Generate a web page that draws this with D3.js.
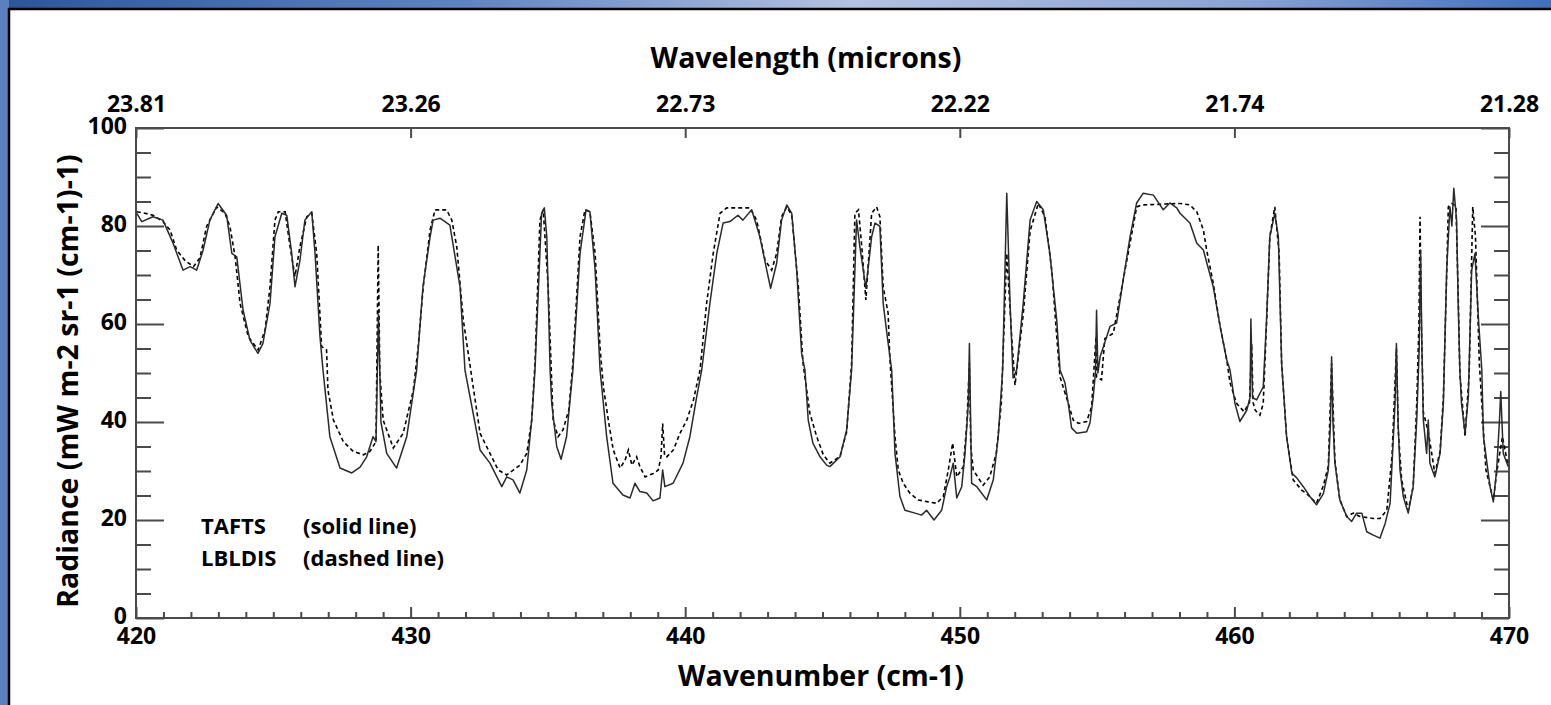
<!DOCTYPE html>
<html>
<head>
<meta charset="utf-8">
<script src="https://cdn.jsdelivr.net/npm/d3@7"></script>
<style>
  body { margin: 0; padding: 0; overflow: hidden; background: #2d5ea6; }
  text { font-family: "Open Sans", "Lato", sans-serif; font-weight: bold; fill: #000; }
</style>
</head>
<body>
<div class="chart"></div>
<script>
// TAFTS measured spectrum (solid line): [wavenumber cm-1, radiance]
var tafts = [
  [420.03,82.6],[420.21,80.9],[420.62,81.9],[420.98,81.2],[421.35,76.5],[421.71,71],[421.97,71.7],
  [422.21,71],[422.44,75],[422.69,81.2],[422.99,84.6],[423.30,82.2],[423.49,74.4],[423.67,73.7],
  [423.90,62.8],[424.15,56.7],[424.44,54],[424.62,56],[424.88,64.2],[425.06,77.8],[425.31,82.6],
  [425.49,82.2],[425.67,74.4],[425.79,67.6],[425.97,73],[426.15,81.2],[426.40,82.9],[426.52,74.4],
  [426.70,57.4],[426.81,50.6],[427.06,37],[427.43,30.6],[427.86,29.6],[428.16,30.8],[428.40,32.9],
  [428.63,37],[428.74,36],[428.83,62],[428.92,40],[429.13,33.6],[429.49,30.6],[429.86,37],
  [430.22,50.6],[430.45,67.6],[430.71,77.8],[430.82,81.2],[431.07,81.6],[431.43,80.2],[431.80,67.6],
  [431.98,50.6],[432.53,34.3],[432.89,31.6],[433.32,26.8],[433.50,28.8],[433.73,28.2],[433.98,25.5],
  [434.23,30.2],[434.41,40.4],[434.53,50.6],[434.77,82.6],[434.87,83.7],[434.96,77.8],[435.08,50.6],
  [435.14,43.8],[435.32,35],[435.48,32.4],[435.68,37],[435.91,50.6],[436.17,74.4],[436.39,83.3],
  [436.53,82.9],[436.72,71],[436.90,50.6],[437.14,37],[437.37,27.5],[437.73,25.1],[437.99,24.5],
  [438.17,27.5],[438.35,25.8],[438.60,25.5],[438.83,23.9],[439.08,24.5],[439.18,30.2],[439.26,26.8],
  [439.56,27.5],[439.92,31.6],[440.17,37],[440.42,45.2],[440.60,50.6],[440.90,64.2],[441.15,74.4],
  [441.38,80.6],[441.63,80.9],[441.92,82.2],[442.10,81.2],[442.42,83.3],[442.72,77.8],[442.97,71],
  [443.11,67.3],[443.33,72.4],[443.51,81.2],[443.70,84.3],[443.88,82.6],[444.06,71],[444.24,54],
  [444.36,50.6],[444.48,40.4],[444.65,35.7],[444.91,32.9],[445.15,31.2],[445.27,30.9],[445.64,32.9],
  [445.88,38.4],[446.06,50.6],[446.14,64.2],[446.24,81.2],[446.36,75.8],[446.58,67.3],[446.79,77.8],
  [446.91,80.6],[447.09,79.9],[447.21,64.2],[447.36,57.4],[447.52,50.6],[447.64,33.6],[447.82,24.8],
  [448.00,22],[448.37,21.4],[448.61,21],[448.79,22],[449.06,20],[449.34,22],[449.52,26.8],
  [449.64,28.8],[449.76,31.6],[449.89,24.5],[450.07,26.8],[450.19,33.6],[450.31,43.8],[450.35,56],
  [450.43,27.5],[450.62,26.8],[450.98,24.1],[451.22,28.2],[451.40,37],[451.56,50.6],[451.71,86.7],
  [451.83,64.2],[451.94,49],[452.07,50.6],[452.31,64.2],[452.56,81.2],[452.80,85],[453.04,83.3],
  [453.28,74.4],[453.53,60.8],[453.65,50.6],[453.83,48],[453.95,43.8],[454.07,38.8],[454.26,37.7],
  [454.62,38],[454.74,39.8],[454.86,45.2],[454.94,50],[454.98,62.8],[455.03,50],[455.11,53.3],
  [455.47,59.5],[455.71,60.2],[455.95,69],[456.20,77.8],[456.44,84.7],[456.68,86.7],[457.05,86.3],
  [457.41,83.3],[457.65,84.7],[457.90,83.7],[458.02,82.6],[458.38,80.6],[458.63,76.5],[458.87,75.1],
  [459.23,67.6],[459.48,59.5],[459.72,52.7],[459.84,50.6],[460.02,43.8],[460.20,40.1],[460.45,42.4],
  [460.57,45],[460.60,61],[460.66,45],[460.81,44.5],[461.05,47.2],[461.17,60.8],[461.29,77.8],
  [461.47,82.6],[461.60,77.8],[461.72,52],[461.90,37],[462.09,29.6],[462.27,28.6],[462.51,26.8],
  [462.75,24.8],[462.99,23.1],[463.24,25.4],[463.42,30.2],[463.50,40],[463.54,53.3],[463.59,40],
  [463.66,31.6],[463.84,24.1],[464.09,20.7],[464.27,19.7],[464.45,21.4],[464.64,21.4],[464.82,17.6],
  [465.06,16.9],[465.30,16.3],[465.49,19.3],[465.67,23.4],[465.85,43.8],[465.90,56],[465.96,40],
  [466.03,30.2],[466.15,24.8],[466.33,21.4],[466.51,26.8],[466.64,40.4],[466.73,55],[466.78,75],
  [466.83,55],[466.88,40.4],[467.00,33.6],[467.06,40.4],[467.12,31.6],[467.30,28.8],[467.49,33.6],
  [467.61,43.8],[467.73,71],[467.85,83.9],[467.92,80],[467.99,87.7],[468.09,81.2],[468.15,64.2],
  [468.21,50.6],[468.27,43.8],[468.40,37.7],[468.52,45.2],[468.64,71],[468.76,74.4],[468.89,60.8],
  [469.01,50.6],[469.07,37],[469.31,26.8],[469.43,23.7],[469.55,30.2],[469.65,40],[469.70,46.2],
  [469.79,33.6],[469.97,30.9]
];

// LBLDIS simulated spectrum (dashed line)
var lbldis = [
  [420.03,82.9],[420.33,82.6],[420.62,82.2],[420.98,80.9],[421.24,79.2],[421.48,75.1],[421.78,73],
  [422.09,71.7],[422.33,73.5],[422.57,79.9],[422.94,83.9],[423.24,82.6],[423.42,79.9],[423.61,73.7],
  [423.79,64.2],[424.09,57.4],[424.45,54.7],[424.70,58.8],[424.88,67.6],[425.06,81.2],[425.18,82.9],
  [425.43,82.9],[425.61,75.8],[425.79,69.7],[425.97,75.8],[426.22,81.9],[426.40,82.6],[426.58,74.4],
  [426.76,55.4],[426.94,54.7],[426.99,46.5],[427.19,40.4],[427.55,36],[427.91,34],[428.28,33.3],
  [428.52,34],[428.74,36],[428.82,76.1],[428.88,50],[429.00,40.4],[429.37,34.7],[429.73,37.7],
  [430.10,46.5],[430.27,55],[430.46,67.6],[430.71,79.2],[430.89,83.3],[431.31,83.3],[431.50,81.2],
  [431.68,75.8],[431.92,60.8],[432.53,37.7],[432.89,33.6],[433.19,30.2],[433.50,29.2],[433.74,30.2],
  [433.98,31.2],[434.23,33.6],[434.41,40.4],[434.53,52],[434.71,81.2],[434.83,83.3],[435.01,67.6],
  [435.19,40.4],[435.37,37],[435.55,38.4],[435.76,42.4],[435.91,52],[436.17,77.8],[436.35,83.3],
  [436.53,82.9],[436.72,74.4],[436.90,55],[437.02,47.2],[437.20,40.4],[437.38,34.3],[437.63,30.6],
  [437.81,32.2],[437.93,34.3],[438.06,31.2],[438.23,32.9],[438.35,30.9],[438.54,28.8],[438.84,29.5],
  [439.02,30.2],[439.12,33],[439.18,39.7],[439.25,33],[439.33,32.9],[439.57,34.3],[439.81,37.7],
  [440.06,40.4],[440.30,44.5],[440.54,50.6],[440.78,64.2],[441.02,74.4],[441.27,82.6],[441.51,83.7],
  [442.36,83.7],[442.60,81.2],[442.91,73],[443.15,71],[443.33,74.4],[443.51,81.9],[443.70,83.9],
  [443.88,82.2],[444.12,67.6],[444.29,52],[444.54,41.8],[444.79,37],[445.03,33.3],[445.27,31.6],
  [445.64,33],[445.88,38],[446.06,52],[446.18,82.6],[446.31,83.3],[446.43,75.8],[446.58,64.9],
  [446.79,82.6],[446.97,83.9],[447.09,81.9],[447.21,67.6],[447.39,62.2],[447.45,53.3],[447.64,37],
  [447.76,30.2],[447.94,27.5],[448.19,25.4],[448.49,24.1],[448.85,23.7],[449.16,23.4],[449.40,24.8],
  [449.58,30.2],[449.74,35.7],[449.89,28.8],[450.13,30.9],[450.26,40],[450.35,52],[450.40,35],
  [450.49,30.2],[450.85,27.1],[451.09,28.8],[451.33,33.6],[451.51,43.8],[451.71,74.4],[451.89,57.4],
  [452.01,47.5],[452.31,62],[452.56,79],[452.86,84.6],[453.10,81.9],[453.35,71],[453.53,57.4],
  [453.65,49.2],[453.95,43.8],[454.13,40.4],[454.33,39.7],[454.62,40.1],[454.80,43.1],[454.96,57.4],
  [454.98,49.2],[455.16,48.6],[455.28,57],[455.59,58.1],[455.95,69],[456.20,76.5],[456.44,83.9],
  [456.62,84.3],[458.02,84.6],[458.38,84.3],[458.63,82.9],[458.87,79.2],[458.99,75.1],[459.23,68.3],
  [459.48,59.5],[459.72,52.7],[459.84,48],[460.08,43.8],[460.35,42.1],[460.55,44],[460.63,56],
  [460.68,44],[460.76,42.4],[460.93,41.4],[461.05,43.8],[461.17,60],[461.29,77.8],[461.47,83.9],
  [461.63,74.4],[461.72,52],[461.90,37],[462.14,28.2],[462.45,26.1],[462.63,25.4],[462.99,23.4],
  [463.24,27],[463.42,31],[463.54,52],[463.66,32],[463.84,24.1],[464.09,20.7],[464.33,21.4],
  [464.57,20.7],[465.06,20.3],[465.30,20.3],[465.55,22],[465.74,33],[465.90,55],[465.97,38],
  [466.09,28.2],[466.33,22],[466.51,26.8],[466.64,43.8],[466.72,60],[466.76,81.9],[466.81,60],
  [466.88,42],[467.06,38],[467.30,29.5],[467.49,34],[467.61,45],[467.73,70],[467.79,83.9],
  [467.92,84.6],[468.07,84],[468.15,66],[468.21,50],[468.40,37],[468.55,50],[468.68,83.9],
  [468.78,77.8],[468.92,52],[469.16,30.2],[469.43,24.1],[469.56,30],[469.76,37],[469.97,31]
];

var xMajor = [420, 430, 440, 450, 460, 470];
var wavelengthLabels = ["23.81", "23.26", "22.73", "22.22", "21.74", "21.28"];
var yMajor = [0, 20, 40, 60, 80, 100];
var legendNames = ["TAFTS", "LBLDIS"];
var legendNotes = ["(solid line)", "(dashed line)"];

var W = 1551, H = 705;
var margin = {left: 136, right: 1509, top: 128, bottom: 618};

var svg = d3.select(".chart")
  .append("svg")
    .attr("width", W)
    .attr("height", H);

// blue backdrop and white panel
var defs = svg.append("defs");
var grad = defs.append("linearGradient").attr("id", "sky")
    .attr("x1", "0").attr("y1", "0").attr("x2", "1").attr("y2", "0");
grad.append("stop").attr("offset", "0%").attr("stop-color", "#2a5699");
grad.append("stop").attr("offset", "30%").attr("stop-color", "#5f84c2");
grad.append("stop").attr("offset", "55%").attr("stop-color", "#b4c2e2");
grad.append("stop").attr("offset", "80%").attr("stop-color", "#8aa3d4");
grad.append("stop").attr("offset", "100%").attr("stop-color", "#3f6fbd");
svg.append("rect").attr("width", W).attr("height", H).attr("fill", "url(#sky)");
svg.append("rect").attr("width", 9).attr("height", H).attr("fill", "#5b80bf");
svg.append("rect")
    .attr("x", 9).attr("y", 9).attr("width", W).attr("height", H)
    .attr("fill", "#fff").attr("stroke", "#000").attr("stroke-width", 2.5);

var x = d3.scaleLinear().domain([420, 470]).range([margin.left, margin.right]);
var y = d3.scaleLinear().domain([0, 100]).range([margin.bottom, margin.top]);

var xMinor = d3.range(421, 470).filter(function(d) { return d % 10 != 0; });
var yMinor = d3.range(5, 100, 5).filter(function(d) { return d % 20 != 0; });

function styleAxis(g) {
  g.select(".domain").remove();
  g.selectAll(".tick line").attr("stroke", "#4a4a4a").attr("stroke-width", 2);
  g.selectAll(".tick text").attr("fill", "#000").style("font-size", "23px")
    .style("font-family", "'Open Sans', sans-serif").style("font-weight", "bold");
}

// bottom axis
svg.append("g").attr("transform", "translate(0," + margin.bottom + ")")
  .call(d3.axisBottom(x).tickValues(xMajor).tickSize(-11).tickPadding(10).tickFormat(d3.format("d")))
  .call(styleAxis);
svg.append("g").attr("transform", "translate(0," + margin.bottom + ")")
  .call(d3.axisBottom(x).tickValues(xMinor).tickSize(-6).tickFormat(""))
  .call(styleAxis);

// top axis with wavelength labels
svg.append("g").attr("transform", "translate(0," + margin.top + ")")
  .call(d3.axisTop(x).tickValues(xMajor).tickSize(-10).tickPadding(16)
    .tickFormat(function(d, i) { return wavelengthLabels[i]; }))
  .call(styleAxis);

// left axis
var yAxisG = svg.append("g").attr("transform", "translate(" + margin.left + ",0)")
  .call(d3.axisLeft(y).tickValues(yMajor).tickSize(-28).tickPadding(9).tickFormat(d3.format("d")))
  .call(styleAxis);
yAxisG.selectAll(".tick text").attr("dy", "0.25em");
svg.append("g").attr("transform", "translate(" + margin.left + ",0)")
  .call(d3.axisLeft(y).tickValues(yMinor).tickSize(-15).tickFormat(""))
  .call(styleAxis);

// right axis
svg.append("g").attr("transform", "translate(" + margin.right + ",0)")
  .call(d3.axisRight(y).tickValues(yMajor).tickSize(-28).tickFormat(""))
  .call(styleAxis);
svg.append("g").attr("transform", "translate(" + margin.right + ",0)")
  .call(d3.axisRight(y).tickValues(yMinor).tickSize(-15).tickFormat(""))
  .call(styleAxis);

// plot frame
svg.append("rect")
    .attr("x", margin.left).attr("y", margin.top)
    .attr("width", margin.right - margin.left).attr("height", margin.bottom - margin.top)
    .attr("fill", "none").attr("stroke", "#4a4a4a").attr("stroke-width", 2);

defs.append("clipPath").attr("id", "clip")
  .append("rect").attr("x", margin.left).attr("y", margin.top)
    .attr("width", margin.right - margin.left).attr("height", margin.bottom - margin.top);

var line = d3.line()
    .x(function(d) { return x(d[0]); })
    .y(function(d) { return y(d[1]); });

var plot = svg.append("g").attr("clip-path", "url(#clip)");

plot.append("path")
    .datum(lbldis)
    .attr("fill", "none")
    .attr("stroke", "#000")
    .attr("stroke-width", 1.6)
    .attr("stroke-dasharray", "4,3")
    .attr("d", line);

plot.append("path")
    .datum(tafts)
    .attr("fill", "none")
    .attr("stroke", "#2a2a2a")
    .attr("stroke-width", 1.5)
    .attr("stroke-linejoin", "round")
    .attr("d", line);

// legend text
legendNames.forEach(function(name, i) {
  svg.append("text").attr("x", 201).attr("y", 534 + i * 32)
    .style("font-size", "22px").text(name);
  svg.append("text").attr("x", 303).attr("y", 534 + i * 32)
    .style("font-size", "22px").text(legendNotes[i]);
});

// titles
svg.append("text")
    .attr("x", 806).attr("y", 68)
    .attr("text-anchor", "middle")
    .style("font-size", "28.5px")
    .text("Wavelength (microns)");

svg.append("text")
    .attr("x", 821).attr("y", 686)
    .attr("text-anchor", "middle")
    .style("font-size", "28.5px")
    .text("Wavenumber (cm-1)");

svg.append("text")
    .attr("transform", "translate(78,381) rotate(-90)")
    .attr("text-anchor", "middle")
    .style("font-size", "28.5px")
    .text("Radiance (mW m-2 sr-1 (cm-1)-1)");
</script>
</body>
</html>
